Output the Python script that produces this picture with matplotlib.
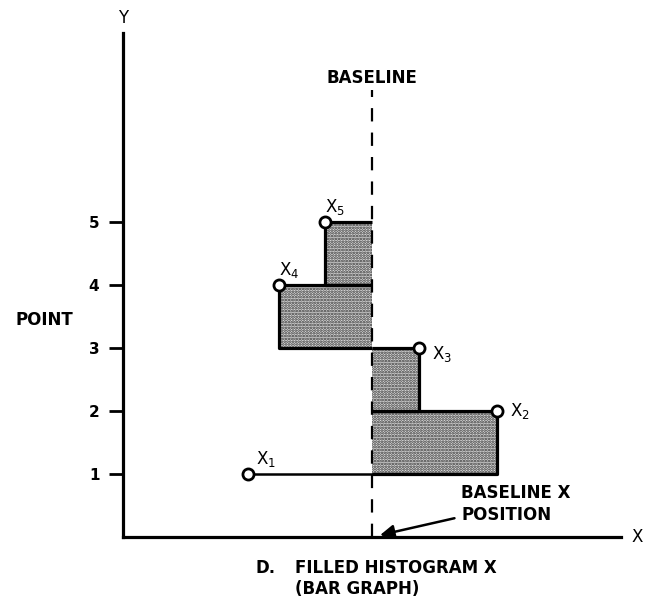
import matplotlib
matplotlib.use("Agg")
import matplotlib.pyplot as plt

# point number (Y) and the X value of each point
point_index = [1, 2, 3, 4, 5]
x_values = [1.98, 5.94, 4.70, 2.48, 3.21]
point_labels = ["X$_1$", "X$_2$", "X$_3$", "X$_4$", "X$_5$"]
baseline = 3.95

# label offsets in points, relative to each point
label_offsets = [(6, 11), (9, 0), (9, -4), (0, 11), (0, 11)]

plt.rcParams["font.family"] = ["DejaVu Sans"]
plt.rcParams["hatch.linewidth"] = 1.3

fig = plt.figure(figsize=(6.57, 5.99), dpi=100)
ax = fig.add_axes([123 / 657, 62 / 599, 7.9 * 63 / 657, 8.0 * 63 / 599])
ax.set_xlim(0, 7.9)
ax.set_ylim(0, 8.0)

for s in ["top", "right"]:
    ax.spines[s].set_visible(False)
ax.spines["left"].set_linewidth(2.3)
ax.spines["bottom"].set_linewidth(2.3)
ax.set_xticks([])
ax.set_yticks(point_index)
ax.set_yticklabels([str(p) for p in point_index], fontweight="bold", fontsize=11)
ax.tick_params(axis="y", direction="out", length=10, width=2, pad=7)

# filled bars: bar i runs from the previous point's Y up to point i
for i in range(1, len(point_index)):
    y0, y1 = point_index[i - 1], point_index[i]
    xv = x_values[i]
    ax.fill_betweenx([y0, y1], baseline, xv, facecolor="#dcdcdc",
                     hatch="......", edgecolor="#333333", linewidth=0)
    ax.plot([baseline, xv, xv, baseline], [y1, y1, y0, y0],
            color="black", linewidth=2.3, solid_capstyle="butt")

# first point: only a line to the baseline
ax.plot([x_values[0], baseline], [point_index[0], point_index[0]],
        color="black", linewidth=1.8)

# baseline
ax.plot([baseline, baseline], [0, 7.1], color="black", linewidth=1.6,
        linestyle=(0, (6, 5)))
ax.text(baseline, 7.29, "BASELINE", ha="center", va="center",
        fontsize=12, fontweight="bold")

ax.plot(x_values, point_index, linestyle="none", marker="o", markersize=8,
        markerfacecolor="white", markeredgecolor="black", markeredgewidth=2,
        zorder=5)

for xv, yv, lab, off in zip(x_values, point_index, point_labels, label_offsets):
    ax.annotate(lab, (xv, yv), xytext=off, textcoords="offset points",
                ha="left", va="center", fontsize=12)

# axis names
ax.text(0, 8.24, "Y", ha="center", va="center", fontsize=12, clip_on=False)
ax.text(8.16, 0, "X", ha="center", va="center", fontsize=12, clip_on=False)
ax.text(-1.25, 3.45, "POINT", ha="center", va="center", fontsize=12,
        fontweight="bold", clip_on=False)

ax.annotate("BASELINE X\nPOSITION", xy=(4.08, 0.03), xytext=(5.37, 0.52),
            ha="left", va="center", fontsize=12, fontweight="bold",
            linespacing=1.3, annotation_clip=False,
            arrowprops=dict(arrowstyle="-|>,head_length=0.7,head_width=0.35",
                            color="black", linewidth=1.8,
                            shrinkA=3, shrinkB=0))

ax.text(2.10, -0.49, "D.", ha="left", va="center", fontsize=12,
        fontweight="bold", clip_on=False)
ax.text(2.73, -0.49, "FILLED HISTOGRAM X", ha="left", va="center",
        fontsize=12, fontweight="bold", clip_on=False)
ax.text(2.73, -0.83, "(BAR GRAPH)", ha="left", va="center",
        fontsize=12, fontweight="bold", clip_on=False)

fig.savefig("out.png", dpi=100)
